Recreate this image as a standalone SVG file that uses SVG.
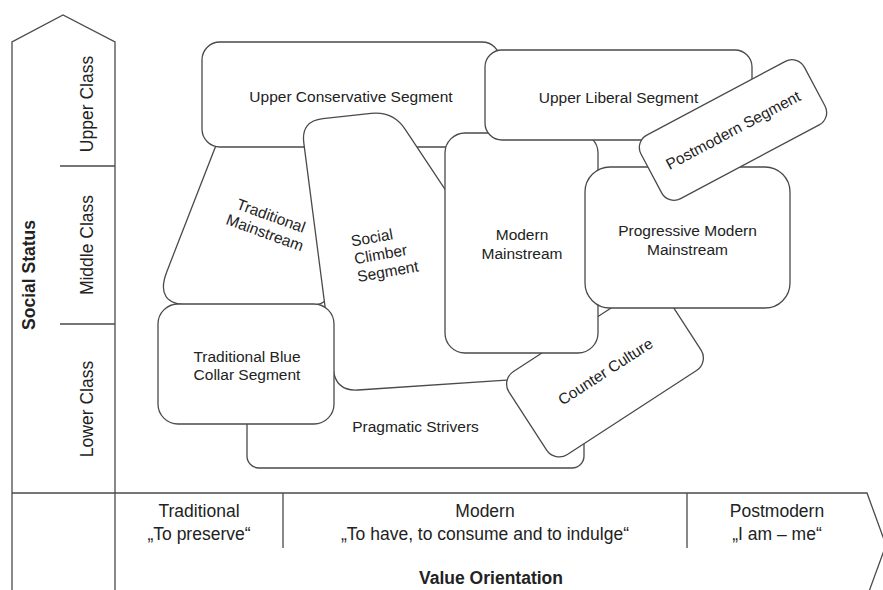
<svg xmlns="http://www.w3.org/2000/svg" width="883" height="590" viewBox="0 0 883 590">
  <style>
    .shape { fill: #fff; stroke: #4a4a4a; stroke-width: 1.3; }
    .axis { fill: none; stroke: #4a4a4a; stroke-width: 1.3; }
    text { font-family: "Liberation Sans", Arial, Helvetica, sans-serif; fill: #222; }
    .lbl { font-size: 15.5px; text-anchor: middle; }
    .ax { font-size: 17.5px; text-anchor: middle; }
    .bold { font-weight: bold; }
  </style>
  <rect width="883" height="590" fill="#fff"/>

  <!-- axes: social status (vertical arrow) and value orientation (horizontal arrow) -->
  <g id="axes">
    <path class="axis" d="M12 590 L12 42 L63 15 L115 42 L115 590"/>
    <path class="axis" d="M12 493 L867 493 L886 545 L867 597"/>
    <path class="axis" d="M60 166 H115 M60 324 H115"/>
    <path class="axis" d="M283 493 V548 M687 493 V548"/>
    <text class="ax" transform="translate(93,104) rotate(-90)">Upper Class</text>
    <text class="ax" transform="translate(93,245) rotate(-90)">Middle Class</text>
    <text class="ax" transform="translate(93,409) rotate(-90)">Lower Class</text>
    <text class="ax bold" transform="translate(35,275) rotate(-90)">Social Status</text>
    <text class="ax" x="199" y="517">Traditional</text>
    <text class="ax" x="199" y="540">„To preserve“</text>
    <text class="ax" x="485" y="517">Modern</text>
    <text class="ax" x="485" y="540">„To have, to consume and to indulge“</text>
    <text class="ax" x="777" y="517">Postmodern</text>
    <text class="ax" x="777" y="540">„I am – me“</text>
    <text class="ax bold" x="491" y="584">Value Orientation</text>
  </g>

  <!-- segments, drawn back to front -->
  <g id="pragmatic-strivers">
    <rect class="shape" x="247" y="330" width="337" height="138" rx="12"/>
    <text class="lbl" x="415.5" y="431.5">Pragmatic Strivers</text>
  </g>

  <g id="traditional-mainstream">
    <path class="shape" d="M222 130 L330 130 L330 287 Q330 305 312 305 L189.8 305 Q153.8 305 166.9 271.4 Z"/>
    <g transform="translate(268,224) rotate(20)">
      <text class="lbl" x="0" y="-3.5">Traditional</text>
      <text class="lbl" x="0" y="14.5">Mainstream</text>
    </g>
  </g>

  <g id="upper-conservative">
    <rect class="shape" x="202" y="42" width="298" height="105" rx="18"/>
    <text class="lbl" x="351" y="101.5">Upper Conservative Segment</text>
  </g>

  <g id="social-climber">
    <path class="shape" d="M322.9 118.6 L371.1 113.4 Q393 111 405.2 129.3 L556.8 357.7 Q569 376 547 377.5 L358 390 Q336 391.5 333.2 369.7 L303.8 142.8 Q301 121 322.9 118.6 Z"/>
    <g transform="translate(352,246.5) rotate(-10)">
      <text style="font-size:15.5px" x="0" y="0">Social</text>
      <text style="font-size:15.5px" x="0" y="18">Climber</text>
      <text style="font-size:15.5px" x="0" y="36">Segment</text>
    </g>
  </g>

  <g id="counter-culture">
    <g transform="translate(605,371) rotate(-33)">
      <rect class="shape" x="-92" y="-49.5" width="184" height="99" rx="15"/>
      <text class="lbl" x="0" y="6">Counter Culture</text>
    </g>
  </g>

  <g id="traditional-blue-collar">
    <rect class="shape" x="158" y="304" width="176" height="120" rx="20"/>
    <text class="lbl" x="247" y="361.7">Traditional Blue</text>
    <text class="lbl" x="247" y="380">Collar Segment</text>
  </g>

  <g id="modern-mainstream">
    <rect class="shape" x="445" y="133" width="153" height="220" rx="20"/>
    <text class="lbl" x="522" y="240">Modern</text>
    <text class="lbl" x="522" y="258.5">Mainstream</text>
  </g>

  <g id="upper-liberal">
    <rect class="shape" x="485" y="50" width="267" height="90" rx="17"/>
    <text class="lbl" x="618.5" y="102.5">Upper Liberal Segment</text>
  </g>

  <g id="progressive-modern-mainstream">
    <rect class="shape" x="585" y="167" width="205" height="141" rx="25"/>
    <text class="lbl" x="687.5" y="235.5">Progressive Modern</text>
    <text class="lbl" x="687.5" y="254.5">Mainstream</text>
  </g>

  <g id="postmodern">
    <g transform="translate(733,130) rotate(-28)">
      <rect class="shape" x="-92.5" y="-36" width="185" height="72" rx="14"/>
      <text class="lbl" x="0" y="5.5">Postmodern Segment</text>
    </g>
  </g>
</svg>
